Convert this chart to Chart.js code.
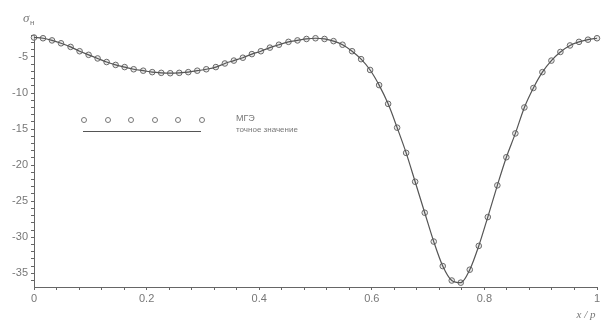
<!DOCTYPE html>
<html>
<head>
<meta charset="utf-8">
<script src="https://cdn.jsdelivr.net/npm/chart.js@4"></script>
<style>
  html, body { margin: 0; padding: 0; background: #fff; }
  #wrap { width: 608px; height: 323px; }
</style>
</head>
<body>
<div id="wrap"><canvas id="sigmaChart" width="608" height="323"></canvas></div>
<script>
// x / p
const xValues = [
  0, 0.016, 0.032, 0.048, 0.065, 0.081, 0.097, 0.113, 0.129, 0.145,
  0.161, 0.177, 0.194, 0.210, 0.226, 0.242, 0.258, 0.274, 0.290, 0.306,
  0.323, 0.339, 0.355, 0.371, 0.387, 0.403, 0.419, 0.435, 0.452, 0.468,
  0.484, 0.500, 0.516, 0.532, 0.548, 0.565, 0.581, 0.597, 0.613, 0.629,
  0.645, 0.661, 0.677, 0.694, 0.710, 0.726, 0.742, 0.758, 0.774, 0.790,
  0.806, 0.823, 0.839, 0.855, 0.871, 0.887, 0.903, 0.919, 0.935, 0.952,
  0.968, 0.984, 1.000
];

// σн (МГЭ и точное значение совпадают на графике)
const sigmaValues = [
  -2.3, -2.4, -2.7, -3.1, -3.6, -4.2, -4.7, -5.2, -5.7, -6.1,
  -6.4, -6.7, -6.9, -7.1, -7.2, -7.25, -7.2, -7.1, -6.9, -6.7,
  -6.4, -5.9, -5.5, -5.1, -4.6, -4.2, -3.7, -3.3, -2.9, -2.7,
  -2.5, -2.4, -2.5, -2.8, -3.3, -4.2, -5.3, -6.8, -8.9, -11.5,
  -14.8, -18.3, -22.3, -26.6, -30.6, -34.0, -36.0, -36.3, -34.5, -31.2,
  -27.2, -22.8, -18.9, -15.6, -12.0, -9.3, -7.1, -5.5, -4.3, -3.4,
  -2.9, -2.6, -2.4
];

const xTickLabels = ['0', '0.2', '0.4', '0.6', '0.8', '1'];
const yTickLabels = ['-5', '-10', '-15', '-20', '-25', '-30', '-35'];
const legendLabels = ['МГЭ', 'точное значение'];

const axisColor = '#666';
const textColor = '#777';

const pointsData = xValues.map((x, i) => ({ x: x, y: sigmaValues[i] }));

// легенда и подписи осей
const extrasPlugin = {
  id: 'extras',
  afterDraw(chart) {
    const ctx = chart.ctx;
    ctx.save();
    // легенда: кружки
    ctx.strokeStyle = '#777';
    ctx.lineWidth = 1;
    [84, 108, 131, 155, 178, 202].forEach(px => {
      ctx.beginPath();
      ctx.arc(px, 120, 2.5, 0, Math.PI * 2);
      ctx.stroke();
    });
    // легенда: линия
    ctx.strokeStyle = '#555';
    ctx.lineWidth = 1.2;
    ctx.beginPath();
    ctx.moveTo(83, 131.5);
    ctx.lineTo(201, 131.5);
    ctx.stroke();

    ctx.fillStyle = textColor;
    ctx.textBaseline = 'middle';
    ctx.textAlign = 'left';
    ctx.font = '9px "Liberation Sans", Arial, sans-serif';
    ctx.fillText(legendLabels[0], 236, 119);
    ctx.font = '8px "Liberation Sans", Arial, sans-serif';
    ctx.fillText(legendLabels[1], 236, 130);

    // σн
    ctx.font = 'italic 13px "Liberation Serif", serif';
    ctx.fillText('σ', 23, 19);
    ctx.font = '8px "Liberation Sans", sans-serif';
    ctx.fillText('н', 30, 23);

    // x / p
    ctx.font = 'italic 11px "Liberation Serif", serif';
    ctx.textAlign = 'center';
    ctx.fillText('x / p', 586, 315);
    ctx.restore();
  }
};

let sigmaCtx = document.getElementById('sigmaChart');

let sigmaConfig = {
  type: 'line',
  data: {
    datasets: [{
      label: legendLabels[1],
      data: pointsData,
      borderColor: '#555',
      borderWidth: 1.2,
      pointRadius: 0,
      cubicInterpolationMode: 'monotone',
      clip: false,
      order: 1
    }, {
      label: legendLabels[0],
      data: pointsData,
      showLine: false,
      pointRadius: 2.8,
      pointBorderWidth: 1,
      pointBorderColor: '#6a6a6a',
      pointBackgroundColor: 'rgba(210, 210, 210, 0.45)',
      clip: false,
      order: 2
    }]
  },
  options: {
    responsive: false,
    animation: false,
    events: [],
    layout: {
      padding: { top: 35, right: 11, left: 0, bottom: 0 }
    },
    plugins: {
      legend: { display: false },
      tooltip: { enabled: false }
    },
    scales: {
      x: {
        type: 'linear',
        min: 0,
        max: 1,
        afterFit: s => { s.height = 36; },
        border: { color: axisColor, width: 1 },
        grid: { drawOnChartArea: false, drawTicks: true, tickLength: 3, color: axisColor },
        ticks: {
          stepSize: 0.04,
          autoSkip: false,
          maxRotation: 0,
          padding: 2,
          color: textColor,
          font: { family: '"Liberation Sans", Arial, sans-serif', size: 11 },
          callback: function (v) {
            const k = Math.round(v / 0.2);
            return Math.abs(v - k * 0.2) < 1e-6 ? xTickLabels[k] : '';
          }
        }
      },
      y: {
        min: -36.9,
        max: -1.95,
        afterFit: s => { s.width = 34; },
        border: { color: axisColor, width: 1 },
        grid: { drawOnChartArea: false, drawTicks: true, tickLength: 3, color: axisColor },
        ticks: {
          stepSize: 1,
          includeBounds: false,
          autoSkip: false,
          padding: 3,
          color: textColor,
          font: { family: '"Liberation Sans", Arial, sans-serif', size: 11 },
          callback: function (v) {
            const k = Math.round(-v / 5);
            return (Math.abs(v + k * 5) < 1e-6 && k >= 1 && k <= yTickLabels.length) ? yTickLabels[k - 1] : '';
          }
        }
      }
    }
  },
  plugins: [extrasPlugin]
};

let sigmaChart = new Chart(sigmaCtx, sigmaConfig);
</script>
</body>
</html>
